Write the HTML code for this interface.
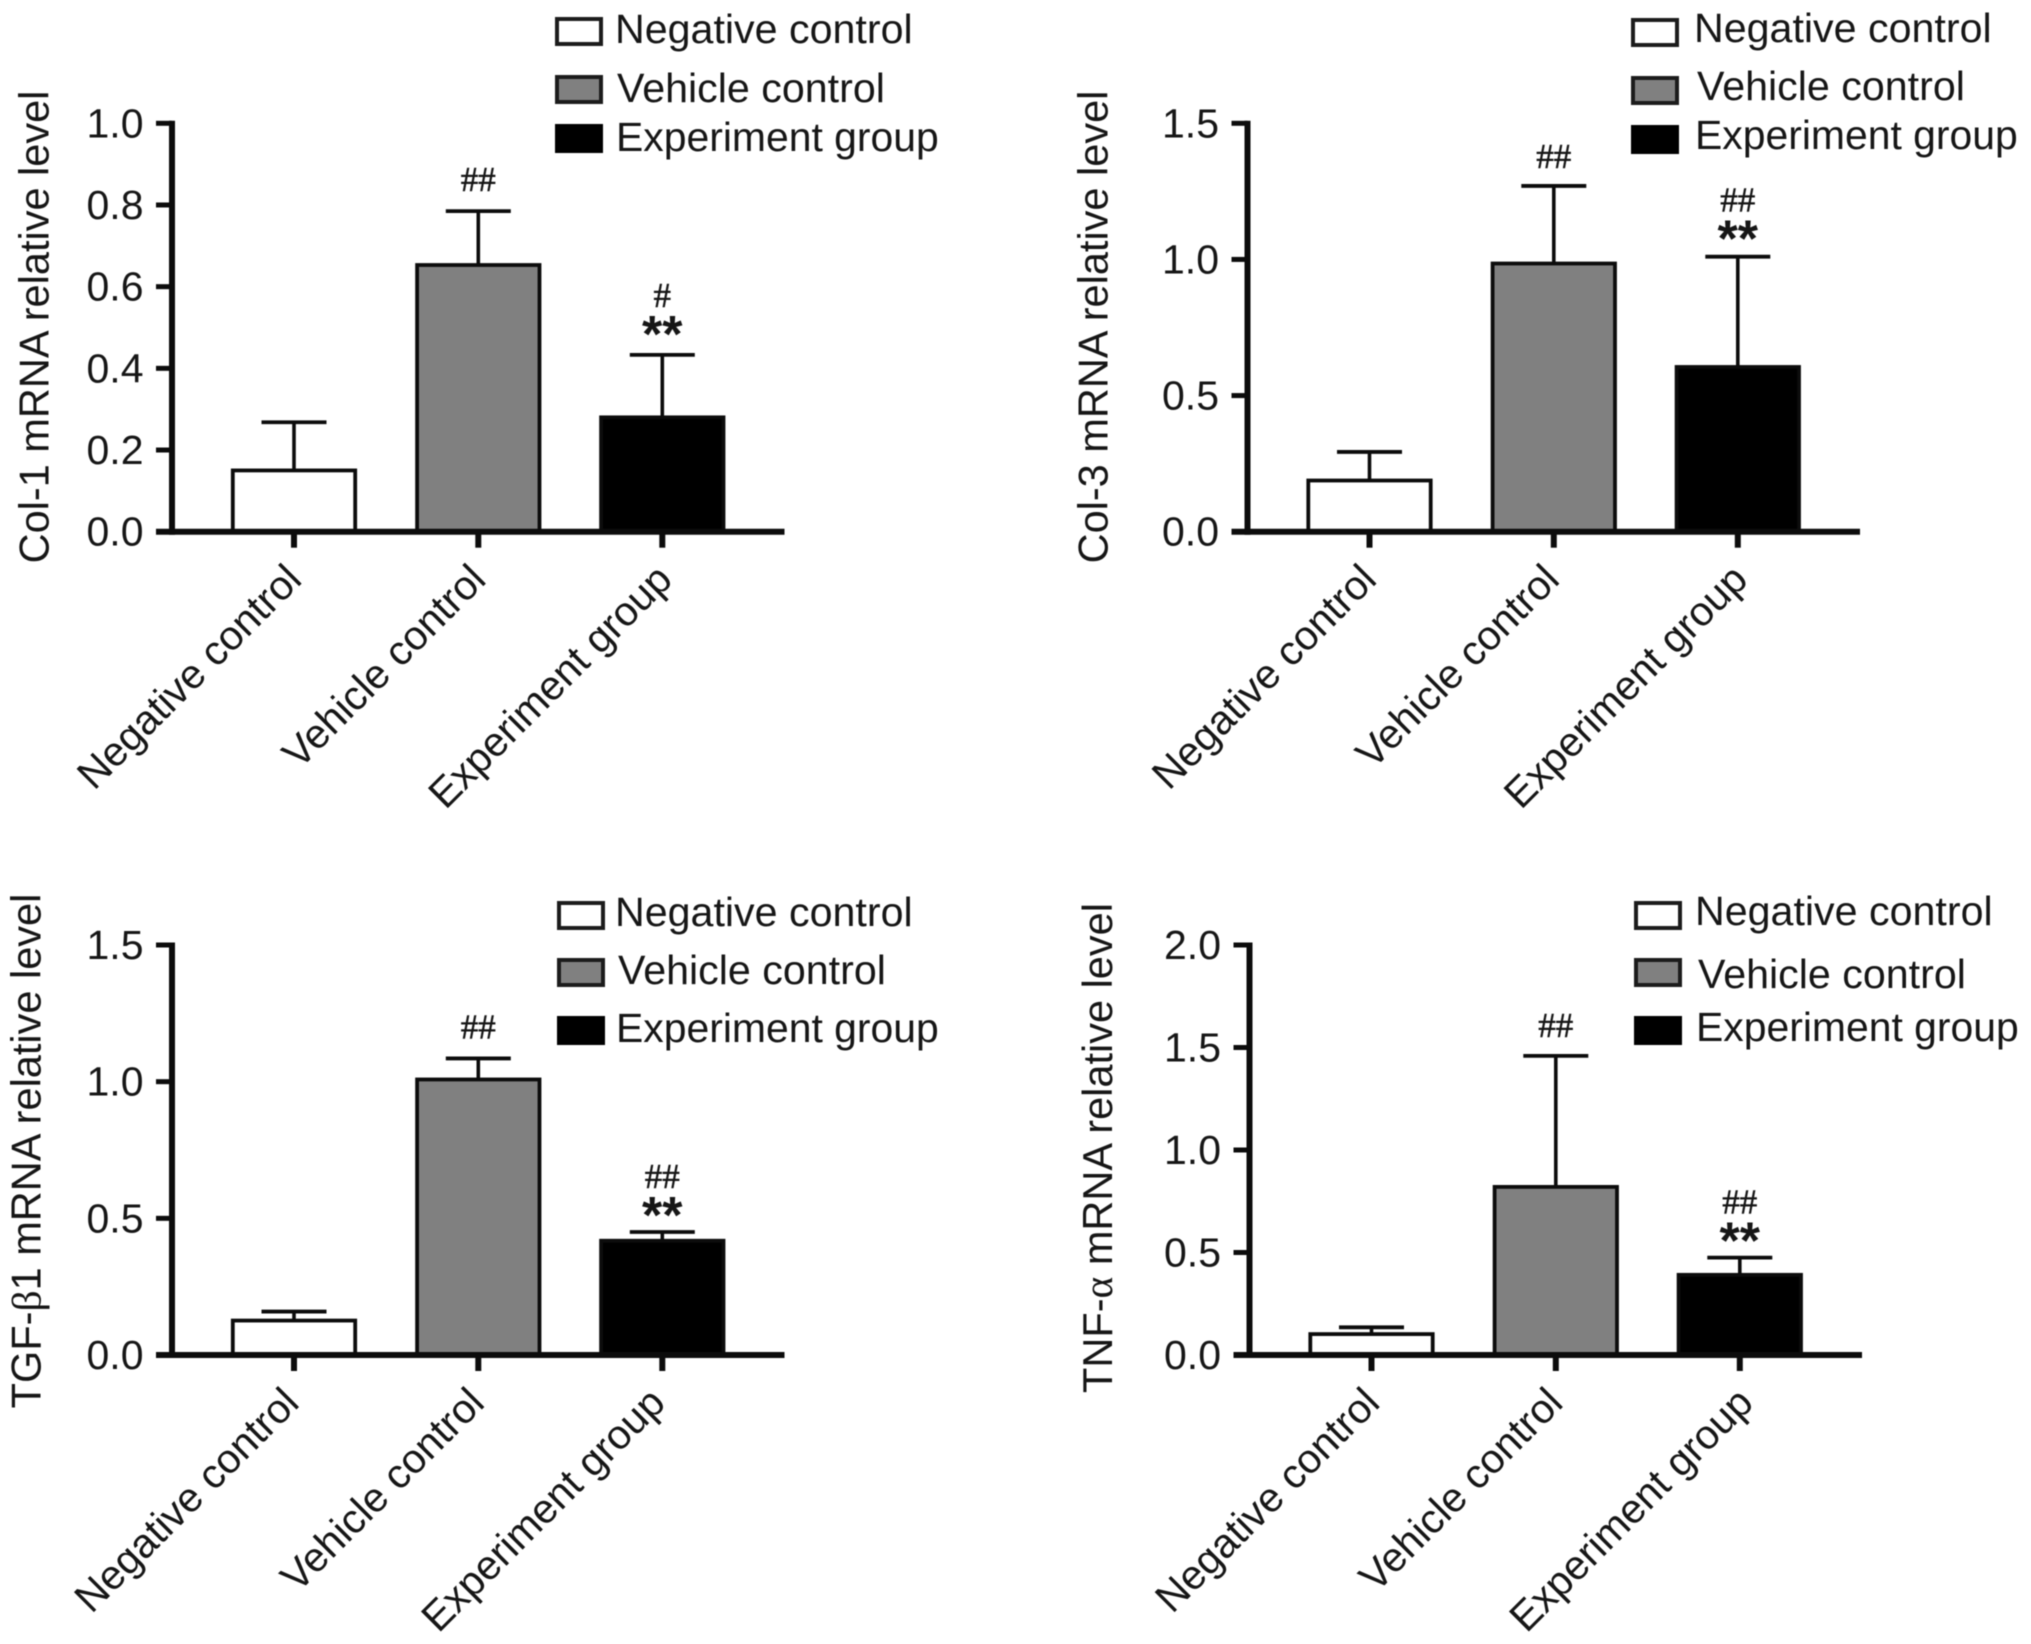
<!DOCTYPE html>
<html lang="en">
<head>
<meta charset="utf-8">
<title>mRNA relative levels</title>
<style>
html,body{margin:0;padding:0;background:#fff;}
svg{display:block;filter:blur(0.5px);}
text{font-family:"Liberation Sans",Arial,sans-serif;fill:#161616;}
</style>
</head>
<body>
<svg id="figure" xmlns="http://www.w3.org/2000/svg" width="2031" height="1644" viewBox="0 0 2031 1644"></svg>
<script>
// ---- data ----
const categories = ['Negative control', 'Vehicle control', 'Experiment group'];
const chartKeys = ['col-1', 'col-3', 'tgf-b1', 'tnf-a'];
const col1Means = [0.15, 0.653, 0.28];
const col1Upper = [0.268, 0.785, 0.433];
const col3Means = [0.188, 0.985, 0.605];
const col3Upper = [0.293, 1.27, 1.01];
const tgfMeans = [0.126, 1.008, 0.418];
const tgfUpper = [0.159, 1.085, 0.45];
const tnfMeans = [0.102, 0.82, 0.391];
const tnfUpper = [0.135, 1.459, 0.475];
const col1Ticks = ['0.0', '0.2', '0.4', '0.6', '0.8', '1.0'];
const col3Ticks = ['0.0', '0.5', '1.0', '1.5'];
const tgfTicks = ['0.0', '0.5', '1.0', '1.5'];
const tnfTicks = ['0.0', '0.5', '1.0', '1.5', '2.0'];
const col1Marks = ['##', '#'];
const col3Marks = ['##', '##'];
const tgfMarks = ['##', '##'];
const tnfMarks = ['##', '##'];

const allMeans = [col1Means, col3Means, tgfMeans, tnfMeans];
const allUpper = [col1Upper, col3Upper, tgfUpper, tnfUpper];
const allTicks = [col1Ticks, col3Ticks, tgfTicks, tnfTicks];
const allMarks = [col1Marks, col3Marks, tgfMarks, tnfMarks];

// ---- layout ----
const layouts = [
  {dx:0, top:123.3, base:531.7, titleX:48.5, titleY:327, title:['Col-1 mRNA relative level'],
   swX:555, swY:[17,75,124], txX:[615,617,616], txY:[43,102,151], gap:18, vGap:20, nudge:[2.6,2.6,5]},
  {dx:1075.5, top:123.3, base:531.7, titleX:1107.5, titleY:327, title:['Col-3 mRNA relative level'],
   swX:1631, swY:[18,76,125], txX:[1694,1697,1695], txY:[42,100,149], gap:15, vGap:18, nudge:[2,0.6,5]},
  {dx:0, top:945, base:1355, titleX:40.5, titleY:1151, title:['TGF-','\u03B2','1 mRNA relative level'],
   swX:557, swY:[901,958,1016], txX:[615,618,616], txY:[926,984,1042], gap:14, vGap:20, nudge:[0,1,-2]},
  {dx:1077.5, top:945, base:1355, titleX:1112, titleY:1148, title:['TNF-','\u03B1',' mRNA relative level'],
   swX:1634, swY:[901,958,1016], txX:[1695,1698,1696], txY:[925,988,1041], gap:14, vGap:19, nudge:[3.2,2,8.5]}
];
const centers = [294, 478.3, 662.3];
const colors = ['#ffffff', '#808080', '#000000'];
const swatchStroke = ['#1c1c1c', '#1c1c1c', '#000000'];
const legendSizes = [41.2, 41.2, 40.9];
const INK = '#0c0c0c';
const figure = document.getElementById('figure');

function make(tag, attrs, parent) {
  const el = document.createElementNS('http://www.w3.org/2000/svg', tag);
  for (const k in attrs) el.setAttribute(k, attrs[k]);
  parent.appendChild(el);
  return el;
}

chartKeys.forEach(function (key, p) {
  const L = layouts[p];
  const means = allMeans[p];
  const upper = allUpper[p];
  const ticks = allTicks[p];
  const marks = allMarks[p];
  const yMax = parseFloat(ticks[ticks.length - 1]);
  const yScale = function (v) { return L.base - (v / yMax) * (L.base - L.top); };
  const xScale = function (i) { return centers[i] + L.dx; };
  const axisX = 172 + L.dx;

  const g = make('g', {}, figure);
  
  

  // bars + error bars
  categories.forEach(function (cat, i) {
    const cx = xScale(i);
    const yTop = yScale(means[i]);
    const yErr = yScale(upper[i]);
    const stem = make('line', {x1:cx, x2:cx, y1:yErr, y2:yTop, stroke:INK, 'stroke-width':3.6}, g);
    
    
    const cap = make('line', {x1:cx - 32.5, x2:cx + 32.5, y1:yErr, y2:yErr, stroke:INK, 'stroke-width':3.8}, g);
    
    
    const bar = make('rect', {x:cx - 61.2, y:yTop, width:122.4, height:L.base - yTop, fill:colors[i], stroke:INK, 'stroke-width':3.8}, g);
    
    
  });

  // axes
  const yAxis = make('line', {x1:axisX, x2:axisX, y1:L.top - 2.5, y2:L.base + 3, stroke:INK, 'stroke-width':6}, g);
  
  
  const xAxis = make('line', {x1:axisX - 16, x2:784.5 + L.dx, y1:L.base, y2:L.base, stroke:INK, 'stroke-width':6}, g);
  
  

  // y ticks
  ticks.forEach(function (label) {
    const y = yScale(parseFloat(label));
    const tick = make('line', {x1:axisX - 16, x2:axisX, y1:y, y2:y, stroke:INK, 'stroke-width':5}, g);
    
    
    const t = make('text', {x:axisX - 28.5, y:y + 14, 'text-anchor':'end', 'font-size':41}, g);
    t.textContent = label;
    
    
  });

  // x ticks and rotated labels
  categories.forEach(function (cat, i) {
    const cx = xScale(i);
    const tick = make('line', {x1:cx, x2:cx, y1:L.base, y2:L.base + 16, stroke:INK, 'stroke-width':6}, g);
    
    
    const lx = cx + 7 + L.nudge[i];
    const ly = L.base + 50;
    const t = make('text', {x:lx, y:ly, 'text-anchor':'end', 'font-size':41, transform:'rotate(-45 ' + lx + ' ' + ly + ')'}, g);
    t.textContent = cat;
    
    
  });

  // y-axis title
  const title = make('text', {x:L.titleX, y:L.titleY, 'text-anchor':'middle', 'font-size':41.5, transform:'rotate(-90 ' + L.titleX + ' ' + L.titleY + ')'}, g);
  
  
  L.title.forEach(function (part) {
    const s = make('tspan', {}, title);
    if (part.length === 1) s.setAttribute('style', 'font-family:"Liberation Serif","DejaVu Serif",serif');
    s.textContent = part;
  });

  // significance marks
  const hashVehicle = make('text', {x:xScale(1), y:yScale(upper[1]) - L.vGap, 'text-anchor':'middle', 'font-size':35, stroke:'#161616', 'stroke-width':0.5}, g);
  hashVehicle.setAttribute('style', 'font-family:"Liberation Serif",serif');
  hashVehicle.textContent = marks[0];
  
  
  const hashExp = make('text', {x:xScale(2), y:yScale(upper[2]) - L.gap - 30, 'text-anchor':'middle', 'font-size':35, stroke:'#161616', 'stroke-width':0.5}, g);
  hashExp.setAttribute('style', 'font-family:"Liberation Serif",serif');
  hashExp.textContent = marks[1];
  
  
  const stars = make('text', {x:xScale(2), y:yScale(upper[2]) - L.gap + 15, 'text-anchor':'middle', 'font-size':52, 'font-weight':'bold'}, g);
  stars.textContent = '**';
  
  

  // legend
  categories.forEach(function (cat, i) {
    const sw = make('rect', {x:L.swX + 2, y:L.swY[i] + 2, width:44, height:25, fill:colors[i], stroke:swatchStroke[i], 'stroke-width':4}, g);
    
    
    const t = make('text', {x:L.txX[i], y:L.txY[i], 'font-size':legendSizes[i]}, g);
    t.textContent = cat;
    
    
  });
});
</script>
</body>
</html>
